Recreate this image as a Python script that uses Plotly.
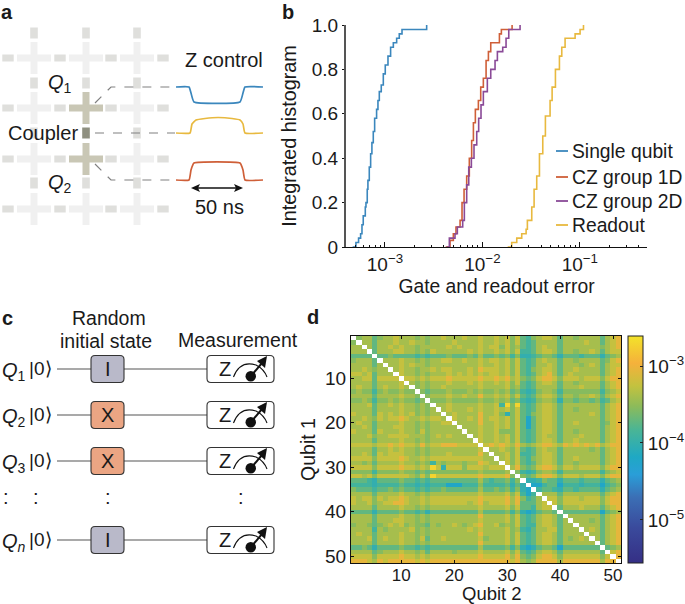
import plotly.graph_objects as go

W, H = 685, 604
FONT = "Liberation Sans, Arial, sans-serif"
INK = "#1a1a1a"

# ---------- panel b data (log10 of error, integrated fraction) ----------
single_log = [-3.332,-3.298,-3.271,-3.25,-3.236,-3.223,-3.202,-3.195,-3.182,-3.175,-3.161,-3.147,-3.134,-3.12,-3.106,-3.086,-3.072,-3.058,-3.038,-3.017,-2.997,-2.969,-2.942,-2.914,-2.88,-2.853,-2.825,-2.572]
single_p = [0,0.02,0.04,0.06,0.1,0.14,0.18,0.2,0.26,0.3,0.36,0.42,0.47,0.52,0.58,0.62,0.66,0.7,0.73,0.78,0.82,0.86,0.9,0.92,0.94,0.96,0.98,1.0]
cz1d_log = [-2.377,-2.332,-2.298,-2.271,-2.229,-2.209,-2.188,-2.161,-2.134,-2.110,-2.092,-2.072,-2.041,-2.017,-1.990,-1.962,-1.938,-1.914,-1.825,-1.805,-1.695]
cz1d_p = [0,0.03,0.06,0.09,0.12,0.2,0.26,0.32,0.4,0.48,0.56,0.62,0.66,0.72,0.76,0.84,0.88,0.92,0.96,0.98,1.0]
cz2d_log = [-2.366,-2.339,-2.281,-2.257,-2.202,-2.185,-2.161,-2.140,-2.113,-2.086,-2.058,-2.038,-2.014,-1.990,-1.949,-1.914,-1.870,-1.846,-1.791,-1.757,-1.729,-1.613]
cz2d_p = [0,0.04,0.06,0.09,0.12,0.2,0.28,0.36,0.4,0.46,0.52,0.58,0.64,0.7,0.76,0.8,0.84,0.88,0.9,0.94,0.98,1.0]
readout_log = [-1.740,-1.699,-1.647,-1.596,-1.551,-1.538,-1.493,-1.469,-1.442,-1.414,-1.380,-1.353,-1.305,-1.284,-1.250,-1.209,-1.185,-1.151,-1.048,-0.997,-0.962]
readout_p = [0,0.02,0.04,0.06,0.08,0.12,0.18,0.26,0.32,0.42,0.5,0.59,0.66,0.72,0.8,0.86,0.9,0.94,0.96,0.98,1.0]
series_names = ["Single qubit", "CZ group 1D", "CZ group 2D", "Readout"]
series_colors = ["#3b87bd", "#cf5f38", "#8a4a97", "#e8b93f"]
y_tick_vals = [0, 0.2, 0.4, 0.6, 0.8, 1.0]
y_tick_text = ["0", "0.2", "0.4", "0.6", "0.8", "1.0"]
x_tick_vals = [1e-3, 1e-2, 1e-1]
x_tick_text = ["10<sup>−3</sup>", "10<sup>−2</sup>", "10<sup>−1</sup>"]

# ---------- panel d data: level of each upper-triangle cell, row by row ----------
cell_levels = [-4.4,-4.22,-4.02,-3.88,-3.72,-3.55,-3.4,-3.25,-3.05,-2.72]
upper_rows = [
 "566456676 6656566766 6766766767 5743567764 66566664678",
 "66466676 6766566667 6666766767 5743466664 66667664678",
 "6466767 6656666676 7666767757 5643467664 66666665678",
 "466677 6656576666 6676766767 5733467764 66566764677",
 "44544 4434344454 4454644545 3522345542 44434442456",
 "6667 6656566776 6766767767 5743467664 66566664578",
 "667 6766566666 6666766767 5743466764 66656764677",
 "67 6656676776 6676877767 5743567764 66766664678",
 "7 6656566676 7676767767 5743467864 67666664678",
 "7767677787 7777877878 6754578875 77767775788",
 "656566676 6676766767 5743467764 66566664678",
 "56566766 6666766667 5643466664 66676664678",
 "5455565 5565655656 4532356653 55555553567",
 "566676 6766866767 5743467764 66566764678",
 "55565 5555655656 4532356652 55455453467",
 "6676 6666766739 5943467764 66666664678",
 "676 6676766767 5743467764 66566664678",
 "67 6666866752 5743567764 66666764678",
 "7 6676867767 5741467764 66666664678",
 "6666866767 5741467764 66766664578",
 "666766767 5741467764 66666664678",
 "66766755 5743467764 66566664678",
 "6766767 5743467664 66676664678",
 "766767 5743467764 66766664678",
 "78787 6865678876 87878786788",
 "6676 5743467664 66666564678",
 "667 5733467764 66666664678",
 "67 5743567764 66766664678",
 "7 5743467764 66566664678",
 "6854578875 77677775788",
 "532356653 55555553567",
 "54578875 77767775788",
 "2235442 44434442456",
 "113441 33323331345",
 "34432 44344442456",
 "6664 66666664678",
 "775 77767775788",
 "75 77777775788",
 "4 66676664678",
 "44444441456",
 "6666664678",
 "666564678",
 "66664678",
 "6764678",
 "664678",
 "64678",
 "4678",
 "456",
 "78",
 "8",
]
qubits = list(range(1, 52))
parula_stops = [[0,"#352f85"],[0.155,"#3a4a9c"],[0.29,"#3b6fb5"],[0.39,"#2a9ed8"],[0.467,"#1fa8c4"],[0.585,"#49b596"],[0.69,"#8cbb5a"],[0.78,"#c3c23f"],[0.88,"#f5b13b"],[1,"#f3e32a"]]

n = len(qubits)
z = [[None]*n for _ in range(n)]
for i, r in enumerate(upper_rows):
    s = r.replace(" ", "")
    assert len(s) == n-1-i, (i, len(s))
    for k, ch in enumerate(s):
        z[i][i+1+k] = z[i+1+k][i] = cell_levels[int(ch)]

# ---------- schematic data (panel a, c), in canvas pixels ----------
cross_x = [34, 86, 137]
cross_y = [58, 108, 159, 209]
h_couplers_x = [8, 60, 111, 163]
v_couplers_y = [33, 83, 133, 183]
active_crosses = [(86, 108), (86, 159)]
pulse_x = [176, 189, 191, 194, 240, 243, 245, 263]
pulse_blue = [87, 87, 93, 102, 102, 93, 87, 87]
pulse_yellow_x = [176, 190, 192, 196, 205, 218, 232, 240, 243, 245, 263]
pulse_yellow = [133, 133, 124, 120, 118.5, 117.5, 118.5, 120, 124, 133, 133]
pulse_red = [180, 180, 170, 163, 163, 170, 180, 180]
wire_y = [369, 415, 461, 540]
gate_names = ["I", "X", "X", "I"]
gate_colors = ["#b9b9c9", "#eba583", "#eba583", "#b9b9c9"]
wire_labels = ["<i>Q</i><sub>1</sub>", "<i>Q</i><sub>2</sub>", "<i>Q</i><sub>3</sub>", "<i>Q</i><sub><i>n</i></sub>"]

fig = go.Figure()
AX_B = dict(xaxis="x", yaxis="y")
AX_C = dict(xaxis="x3", yaxis="y3")

for name, color, lg, p in zip(series_names, series_colors,
                              [single_log, cz1d_log, cz2d_log, readout_log],
                              [single_p, cz1d_p, cz2d_p, readout_p]):
    fig.add_trace(go.Scatter(x=[10**v for v in lg], y=p, mode="lines", name=name, showlegend=False,
                             line=dict(color=color, width=1.6, shape="hv"), **AX_B))

fig.add_trace(go.Heatmap(x=qubits, y=qubits, z=z, zmin=-5.56, zmax=-2.61, colorscale=parula_stops,
                         hoverongaps=False, xaxis="x2", yaxis="y2",
                         colorbar=dict(x=628/W, xanchor="left", y=1-336/H, yanchor="top",
                                       len=227/H, lenmode="fraction", thickness=15, thicknessmode="pixels",
                                       ypad=0, xpad=0, outlinewidth=1, outlinecolor="#222",
                                       tickmode="array", tickvals=[-3,-4,-5],
                                       ticktext=["10<sup>−3</sup>","10<sup>−4</sup>","10<sup>−5</sup>"],
                                       ticks="inside", ticklen=3, tickcolor="#222",
                                       tickfont=dict(size=19, color=INK, family=FONT))))

for yy, xs, col in [(pulse_blue, pulse_x, series_colors[0]), (pulse_yellow, pulse_yellow_x, series_colors[3]), (pulse_red, pulse_x, series_colors[1])]:
    fig.add_trace(go.Scatter(x=xs, y=yy, mode="lines", showlegend=False,
                             line=dict(color=col, width=1.7, shape="spline", smoothing=0.4), **AX_C))

shapes, ann = [], []
def C(**k):
    k.update(xref="x3", yref="y3")
    return k
def rect(x0, y0, x1, y1, color, lw=0, lc="#333", layer="above"):
    shapes.append(C(type="rect", x0=x0, y0=y0, x1=x1, y1=y1, fillcolor=color,
                    line=dict(width=lw, color=lc), layer=layer))
def line(pts, color, width=1.2, dash="solid"):
    d = "M" + " L".join(f"{a},{b}" for a, b in pts)
    shapes.append(C(type="path", path=d, line=dict(color=color, width=width, dash=dash)))
def rrect(x0, y0, x1, y1, r, fill, lw=1.1):
    d = (f"M{x0+r},{y0} L{x1-r},{y0} Q{x1},{y0} {x1},{y0+r} L{x1},{y1-r} Q{x1},{y1} {x1-r},{y1} "
         f"L{x0+r},{y1} Q{x0},{y1} {x0},{y1-r} L{x0},{y0+r} Q{x0},{y0} {x0+r},{y0} Z")
    shapes.append(C(type="path", path=d, fillcolor=fill, line=dict(color="#333", width=lw)))
def text(x, y, s, size=20, xanchor="center", **kw):
    ann.append(dict(xref="x3", yref="y3", x=x, y=y, text=s, showarrow=False, xanchor=xanchor, yanchor="middle",
                    font=dict(size=size, color=INK, family=FONT), **kw))

# panel a: lattice
for cy in cross_y:
    for cx in cross_x:
        col = "#c9c7b5" if (cx, cy) in active_crosses else "#f0f0f0"
        rect(cx-17, cy-3.5, cx+17, cy+3.5, col)
        rect(cx-3.5, cy-16, cx+3.5, cy+16, col)
    for hx in h_couplers_x:
        rect(hx-5.7, cy-3.5, hx+5.7, cy+3.5, "#dfdfdc")
for cx in cross_x:
    for vy in v_couplers_y:
        col = "#8f9080" if (cx, vy) == (86, 133) else "#dfdfdc"
        rect(cx-3.8, vy-5.5, cx+3.8, vy+5.5, col)
line([(95,103),(111,87),(175,87)], "#808080", 1.2, "dash")
line([(95,133),(175,133)], "#808080", 1.2, "dash")
line([(95,164),(111,180),(175,180)], "#808080", 1.2, "dash")
text(224, 60, "Z control", 20)
text(60, 83, "<i>Q</i><sub>1</sub>", 20)
text(60, 183, "<i>Q</i><sub>2</sub>", 20)
text(43, 133, "Coupler", 20)
text(219, 207, "50 ns", 20)
line([(195, 188), (239, 188)], "#111", 1.3)
shapes.append(C(type="path", path="M191,188 L200,184 L198,188 L200,192 Z", fillcolor="#111", line=dict(width=0)))
shapes.append(C(type="path", path="M243,188 L234,184 L236,188 L234,192 Z", fillcolor="#111", line=dict(width=0)))

# panel labels
for lab, x, y in [("a", 7, 12), ("b", 288, 12), ("c", 7, 318), ("d", 313, 317)]:
    text(x, y, f"<b>{lab}</b>", 20)

# panel b legend
legend_y = [151, 177, 201, 225]
for name, col, y in zip(series_names, series_colors, legend_y):
    line([(556, y), (568, y)], col, 1.8)
    text(570, y, name, 19.3, xanchor="left")

# panel c
text(109, 318, "Random", 19.5)
text(106, 341, "initial state", 19.5)
text(238, 340, "Measurement", 19.5)
for wy, g, col, lab in zip(wire_y, gate_names, gate_colors, wire_labels):
    line([(57, wy), (207, wy)], "#555", 1.2)
    rrect(91, wy-13.5, 124, wy+13.5, 4, col)
    text(107.5, wy, g, 20)
    rrect(207, wy-13.5, 274, wy+13.5, 4, "white")
    text(225, wy, "Z", 20)
    shapes.append(C(type="path", path=f"M233.5,{wy+8} Q240,{wy-9} 256,{wy-4} Q264,{wy} 267,{wy+8}",
                    line=dict(color="#111", width=1.1)))
    shapes.append(C(type="circle", x0=245.5, y0=wy+2, x1=256, y1=wy+12.5, fillcolor="#111", line=dict(width=0)))
    line([(251, wy+7), (262, wy-6)], "#111", 2)
    shapes.append(C(type="path", path=f"M267,{wy-13} L257,{wy-8} L265,{wy-1} Z", fillcolor="#111", line=dict(width=0)))
    text(0, wy+2, lab, 20, xanchor="left")
    text(40, wy-1, "|0⟩", 19)
for x in [6, 36, 108, 241]:
    text(x, 497, ":", 20)
text(492, 593.5, "Qubit 2", 18.5)

axis_font = dict(size=19, color=INK, family=FONT)
heat_font = dict(size=17, color=INK, family=FONT)
fig.update_layout(
    width=W, height=H, margin=dict(l=0, r=0, t=0, b=0, autoexpand=False), autosize=False,
    paper_bgcolor="white", plot_bgcolor="rgba(0,0,0,0)", showlegend=False,
    shapes=shapes, annotations=ann,
    font=dict(family=FONT, color=INK),
    xaxis=dict(domain=[346/W, 647/W], type="log", range=[-3.40, -0.31], anchor="y",
               tickmode="array", tickvals=x_tick_vals, ticktext=x_tick_text, ticks="inside", ticklen=5,
               tickcolor="#111", showgrid=False, zeroline=False, showline=True, linecolor="#111", linewidth=1,
               tickfont=axis_font, minor=dict(ticks="inside", ticklen=2.5, tickcolor="#111", dtick="D1", showgrid=False),
               title=dict(text="Gate and readout error", font=dict(size=19.3, color=INK, family=FONT), standoff=5)),
    yaxis=dict(domain=[1-247/H, 1-25/H], range=[0, 1], anchor="x",
               tickmode="array", tickvals=y_tick_vals, ticktext=y_tick_text, ticks="outside", ticklen=2,
               tickcolor="#111", showgrid=False, zeroline=False, showline=True, linecolor="#555", linewidth=2,
               tickfont=axis_font,
               title=dict(text="Integrated histogram", font=dict(size=19.8, color=INK, family=FONT), standoff=10)),
    xaxis2=dict(domain=[351/W, 621/W], range=[0.5, 51.5], anchor="y2", tickmode="array", tickvals=[10,20,30,40,50],
                ticks="inside", ticklen=3, tickcolor="#111", showgrid=False, zeroline=False, showline=True,
                linecolor="#111", linewidth=1, mirror="ticks", tickfont=heat_font, ticklabelstandoff=-3),
    yaxis2=dict(domain=[1-563/H, 1-336/H], range=[51.5, 0.5], anchor="x2", tickmode="array", tickvals=[10,20,30,40,50],
                ticks="inside", ticklen=3, tickcolor="#111", showgrid=False, zeroline=False, showline=True,
                linecolor="#111", linewidth=1, mirror="ticks", tickfont=axis_font,
                title=dict(text="Qubit 1", font=dict(size=19.5, color=INK, family=FONT), standoff=4)),
    xaxis3=dict(domain=[0, 1], range=[0, W], anchor="y3", visible=False, fixedrange=True),
    yaxis3=dict(domain=[0, 1], range=[H, 0], anchor="x3", visible=False, fixedrange=True),
)
fig.write_html("out.html", post_script="document.body.style.margin='0';", config=dict(displayModeBar=False))
